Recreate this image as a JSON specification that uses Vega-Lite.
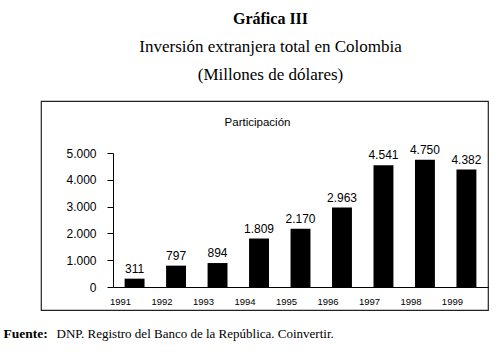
{
  "$schema": "https://vega.github.io/schema/vega-lite/v6.json",
  "width": 447,
  "height": 209,
  "autosize": {"type": "none"},
  "padding": {"left": 41, "top": 101, "right": 16, "bottom": 42},
  "background": "white",
  "title": {
    "text": "Gráfica III",
    "subtitle": ["Inversión extranjera total en Colombia", "(Millones de dólares)"],
    "anchor": "middle",
    "frame": "group",
    "offset": 18,
    "dx": 6
  },
  "data": {
    "values": [
      {"year": "1991", "value": 311},
      {"year": "1992", "value": 797},
      {"year": "1993", "value": 894},
      {"year": "1994", "value": 1809},
      {"year": "1995", "value": 2170},
      {"year": "1996", "value": 2963},
      {"year": "1997", "value": 4541},
      {"year": "1998", "value": 4750},
      {"year": "1999", "value": 4382}
    ]
  },
  "encoding": {
    "x": {
      "field": "year",
      "type": "ordinal",
      "scale": {"range": [72, 447], "paddingInner": 0.52, "paddingOuter": 0.28}
    },
    "y": {
      "field": "value",
      "type": "quantitative",
      "scale": {"domain": [0, 5000], "range": [186, 52], "nice": false, "zero": true}
    }
  },
  "layer": [
    {
      "mark": {"type": "bar", "color": "#000"},
      "encoding": {
        "x": {
          "field": "year",
          "type": "ordinal",
          "axis": {
            "orient": "bottom",
            "offset": -23,
            "ticks": false,
            "tickSize": 0,
            "labelAngle": 0,
            "labelFont": "Liberation Sans",
            "labelFontSize": 9.5,
            "labelColor": "#000",
            "labelOffset": -14,
            "labelPadding": 9,
            "domainColor": "#000",
            "title": "DNP. Registro del Banco de la República. Coinvertir.",
            "titleFont": "Liberation Serif",
            "titleFontSize": 13,
            "titleFontWeight": "normal",
            "titleColor": "#000",
            "titleAlign": "left",
            "titleBaseline": "alphabetic",
            "titleAnchor": "start",
            "titleX": 15,
            "titleY": 50
          }
        },
        "y": {
          "field": "value",
          "type": "quantitative",
          "axis": {
            "orient": "left",
            "offset": -72,
            "values": [0, 1000, 2000, 3000, 4000, 5000],
            "format": ",.0f",
            "grid": false,
            "tickSize": 6,
            "tickColor": "#000",
            "domainColor": "#000",
            "labelFont": "Liberation Sans",
            "labelFontSize": 12,
            "labelColor": "#000",
            "labelPadding": 11,
            "title": "Fuente:",
            "titleFont": "Liberation Serif",
            "titleFontSize": 13.5,
            "titleFontWeight": "bold",
            "titleColor": "#000",
            "titleAngle": 0,
            "titleAlign": "left",
            "titleBaseline": "alphabetic",
            "titleX": -110,
            "titleY": 236
          }
        }
      }
    },
    {
      "mark": {"type": "text", "baseline": "alphabetic", "dy": -6, "font": "Liberation Sans", "fontSize": 12, "color": "#000"},
      "encoding": {
        "x": {
          "field": "year",
          "type": "ordinal",
          "axis": {
            "orient": "top",
            "labels": false,
            "ticks": false,
            "domain": false,
            "title": "Participación",
            "titleFont": "Liberation Sans",
            "titleFontSize": 11.5,
            "titleFontWeight": "normal",
            "titleColor": "#000",
            "titleAlign": "center",
            "titleBaseline": "alphabetic",
            "titleX": 216,
            "titleY": 24
          }
        },
        "text": {"field": "value", "type": "quantitative", "format": ",.0f"}
      }
    }
  ],
  "resolve": {"axis": {"x": "independent"}},
  "config": {
    "locale": {"number": {"decimal": ",", "thousands": ".", "grouping": [3], "currency": ["$", ""]}},
    "view": {"stroke": "#222", "strokeWidth": 1.2},
    "title": {
      "font": "Liberation Serif",
      "fontSize": 16,
      "fontWeight": "bold",
      "color": "#000",
      "subtitleFont": "Liberation Serif",
      "subtitleFontSize": 17,
      "subtitleFontWeight": "normal",
      "subtitleColor": "#000",
      "subtitleLineHeight": 28,
      "subtitlePadding": 12
    }
  }
}
